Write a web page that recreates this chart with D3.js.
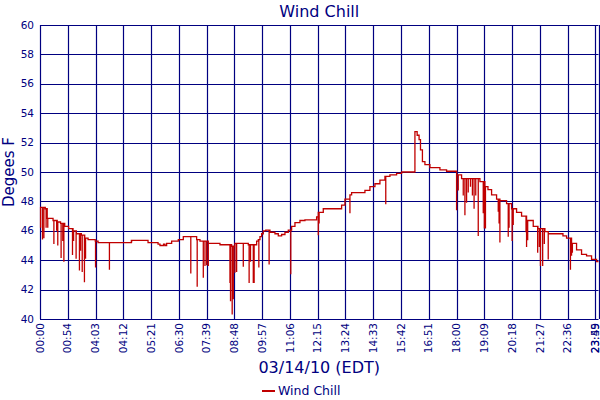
<!DOCTYPE html>
<html>
<head>
<meta charset="utf-8">
<script src="https://cdn.jsdelivr.net/npm/d3@7"></script>
<style>
  body { margin: 0; background: #fff; }
  text { font-family: "DejaVu Sans", Verdana, sans-serif; fill: #000080; }
</style>
</head>
<body>
<div id="chart"></div>
<script>
// tick labels along the bottom (one per vertical grid line)
const timeLabels = ["00:00","00:54","04:03","04:12","05:21","06:30","07:39","08:48","09:57","11:06",
  "12:15","13:24","14:33","15:42","16:51","18:00","19:09","20:18","21:27","22:36","23:45"];
const endLabel = "23:59";
const yTicks = [40, 42, 44, 46, 48, 50, 52, 54, 56, 58, 60];

// wind chill, stepped reading [slot, degF]
const chillSteps = [
  [0.00,47.6],[0.19,47.5],[0.26,46.85],[0.47,46.7],[0.62,46.6],[0.74,46.5],[0.89,46.3],[1.03,46.15],
  [1.19,46.0],[1.31,45.8],[1.49,45.7],[1.61,45.5],[1.73,45.4],[1.99,45.3],[2.09,45.2],[3.29,45.35],
  [3.89,45.2],[4.25,45.1],[4.32,45.0],[4.45,45.1],[4.5,45.0],[4.56,45.15],[4.74,45.3],[4.98,45.4],
  [5.16,45.6],[5.64,45.4],[5.76,45.3],[6.06,45.15],[6.48,45.05],[6.9,44.95],[7.02,45.15],[7.5,45.05],
  [7.8,45.3],[7.86,45.4],[7.92,45.6],[7.98,45.8],[8.04,46.0],[8.13,46.05],[8.28,45.9],[8.46,45.8],
  [8.58,45.65],[8.7,45.75],[8.82,45.9],[8.94,46.05],[9.06,46.3],[9.18,46.55],[9.36,46.7],[9.54,46.75],
  [9.96,46.95],[10.02,47.25],[10.2,47.5],[10.86,47.75],[10.98,48.15],[11.16,48.45],[11.22,48.6],
  [11.7,48.75],[11.88,49.0],[12.06,49.2],[12.24,49.45],[12.42,49.7],[12.6,49.8],[12.84,49.9],
  [13.02,50.0],[13.5,52.75],[13.58,52.5],[13.65,52.2],[13.7,51.5],[13.77,50.7],[13.86,50.5],
  [14.04,50.3],[14.4,50.15],[14.64,50.05],[15.0,49.8],[15.18,49.55],[15.84,49.35],[16.02,49.0],
  [16.13,48.8],[16.26,48.45],[16.44,48.15],[16.56,48.05],[16.8,47.85],[16.98,47.5],[17.16,47.25],
  [17.34,47.0],[17.52,46.7],[17.76,46.3],[17.93,46.15],[18.18,45.95],[18.3,45.8],[18.83,45.65],
  [18.96,45.5],[19.14,45.15],[19.32,44.7],[19.5,44.4],[19.68,44.3],[19.86,44.05],[20.04,43.9],[20.11,43.9]
];

// single-sample gust drops [slot, degF]
const chillDips = [
  [0.02,46.2],[0.09,45.4],[0.14,45.5],[0.22,46.2],[0.28,46.2],[0.5,45.1],[0.6,46.0],[0.64,45.0],
  [0.76,44.15],[0.82,45.3],[0.86,43.9],[1.17,44.35],[1.21,45.3],[1.3,44.1],[1.42,43.3],[1.46,44.65],
  [1.52,43.2],[1.6,42.5],[1.64,44.1],[2.0,43.5],[2.5,43.35],[3.3,45.2],
  [5.43,43.1],[5.66,42.2],[5.88,42.8],[5.94,43.6],[6.0,43.65],[6.06,43.6],[6.84,42.45],[6.86,41.2],
  [6.92,40.3],[6.96,41.35],[7.02,43.15],[7.08,43.2],[7.32,43.55],[7.53,42.45],[7.58,43.9],[7.68,42.45],
  [7.71,42.45],[7.88,43.5],[8.25,43.7],[9.03,43.05],
  [10.02,45.7],[10.05,46.5],[11.16,47.2],[12.45,47.8],[15.0,47.4],[15.06,48.75],[15.24,48.4],
  [15.3,47.05],[15.36,47.9],[15.42,48.6],[15.5,49.0],[15.57,48.4],[15.63,47.5],[15.69,48.4],
  [15.78,45.65],[15.96,47.2],[16.0,46.15],[16.04,46.15],[16.5,47.3],[16.53,46.5],[16.56,45.2],
  [16.86,45.6],[16.89,46.2],[17.0,45.3],[17.04,46.4],[17.5,45.9],[17.52,44.9],[17.56,45.35],
  [17.92,44.5],[17.98,44.9],[18.02,43.6],[18.1,43.6],[18.16,45.1],[18.3,44.05],[19.1,43.35],
  [19.14,44.3],[19.17,44.5]
];

const width = 600, height = 400;
const margin = {top: 25, right: 1.5, bottom: 81, left: 40};
const navy = "#000080", red = "#c00000";
const endSlot = 20.11;

const svg = d3.select("#chart").append("svg")
  .attr("width", width).attr("height", height);

const x = d3.scaleLinear().domain([0, endSlot]).range([margin.left, width - margin.right]);
const y = d3.scaleLinear().domain([40, 60]).range([height - margin.bottom, margin.top]);

// grid
const grid = svg.append("g").attr("stroke", navy).attr("stroke-width", 1.2);
grid.selectAll(".h").data(yTicks).join("line")
  .attr("x1", x(0)).attr("x2", x(endSlot))
  .attr("y1", d => Math.round(y(d)) + 0.5).attr("y2", d => Math.round(y(d)) + 0.5);
grid.selectAll(".v").data(d3.range(timeLabels.length).concat([endSlot])).join("line")
  .attr("x1", d => Math.round(x(d)) + 0.5).attr("x2", d => Math.round(x(d)) + 0.5)
  .attr("y1", y(60)).attr("y2", y(40));

// merge steps and dips into one path
function baseAt(s) {
  let v = chillSteps[0][1];
  chillSteps.forEach(p => { if (p[0] <= s) v = p[1]; });
  return v;
}
let pts = chillSteps.map(p => ({s: p[0], v: p[1], k: 0}));
chillDips.forEach(d => {
  const b = baseAt(d[0]);
  pts.push({s: d[0], v: b, k: 1}, {s: d[0], v: d[1], k: 2}, {s: d[0], v: b, k: 3});
});
pts.sort((a, b) => a.s - b.s || a.k - b.k);

const line = d3.line().curve(d3.curveStepAfter).x(d => x(d.s)).y(d => y(d.v));
svg.append("path").datum(pts)
  .attr("fill", "none").attr("stroke", red).attr("stroke-width", 1.3)
  .attr("d", line);

// y tick labels
svg.append("g").selectAll("text").data(yTicks).join("text")
  .attr("x", 34).attr("y", d => y(d)).attr("dy", "0.35em")
  .attr("text-anchor", "end").attr("font-size", 10.5)
  .text(d => d);

// x tick labels (rotated); the closing label sits just inside the edge
const xl = timeLabels.map((t, i) => [i, t, 0]).concat([[endSlot, endLabel, -3]]);
svg.append("g").selectAll("text").data(xl).join("text")
  .attr("transform", d => `translate(${x(d[0]) + d[2]},${y(40) + 4}) rotate(-90)`)
  .attr("dy", "0.35em").attr("text-anchor", "end").attr("font-size", 10.5)
  .text(d => d[1]);

// titles
svg.append("text").attr("x", (x(0) + x(endSlot)) / 2).attr("y", 17)
  .attr("text-anchor", "middle").attr("font-size", 16).text("Wind Chill");
svg.append("text").attr("transform", `translate(14,${(y(40) + y(60)) / 2}) rotate(-90)`)
  .attr("text-anchor", "middle").attr("font-size", 15).text("Degees F");
svg.append("text").attr("x", (x(0) + x(endSlot)) / 2).attr("y", 373)
  .attr("text-anchor", "middle").attr("font-size", 16).text("03/14/10 (EDT)");

// legend
svg.append("line").attr("x1", 262).attr("x2", 275).attr("y1", 391).attr("y2", 391)
  .attr("stroke", red).attr("stroke-width", 2);
svg.append("text").attr("x", 278).attr("y", 395).attr("font-size", 12.5).text("Wind Chill");
</script>
</body>
</html>
